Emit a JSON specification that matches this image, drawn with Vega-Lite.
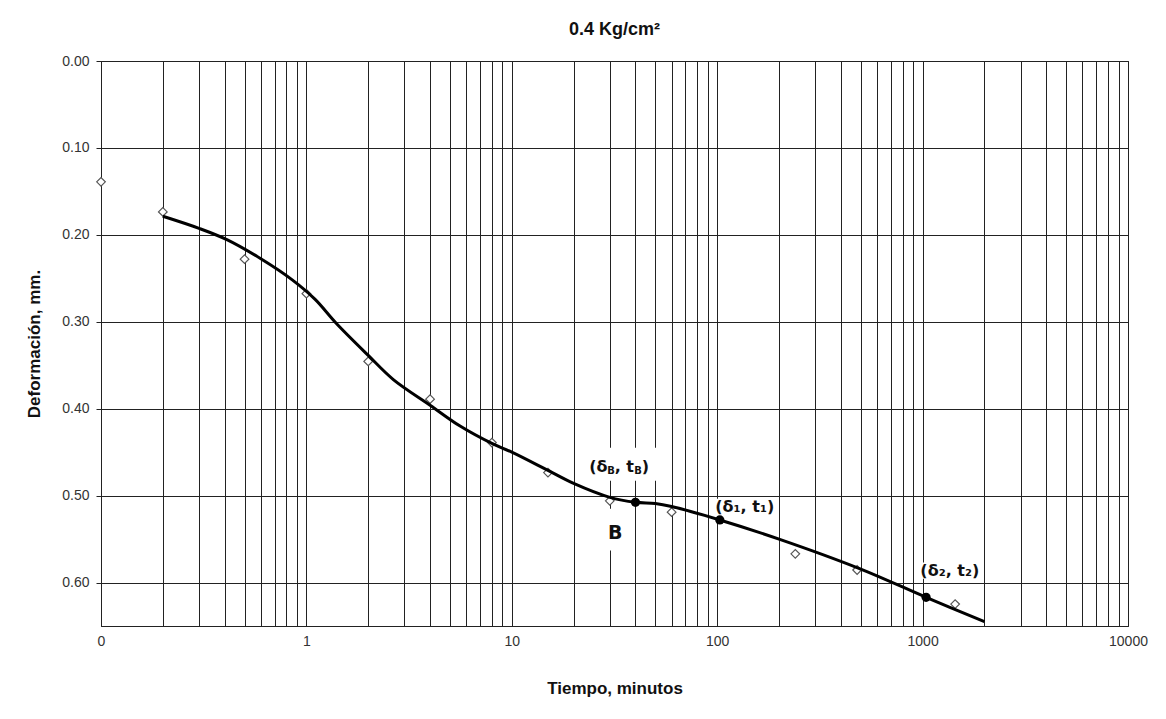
{
  "$schema": "https://vega.github.io/schema/vega-lite/v6.json",
  "autosize": {"type": "none"},
  "padding": {"left": 101, "top": 61, "right": 38, "bottom": 93},
  "width": 1027,
  "height": 565,
  "background": "white",
  "config": {
    "view": {"stroke": "#222", "strokeWidth": 1},
    "font": "Liberation Sans"
  },
  "title": {
    "text": "0.4 Kg/cm²",
    "anchor": "middle",
    "fontSize": 18,
    "fontWeight": "bold",
    "font": "Liberation Sans",
    "color": "#111",
    "offset": 15
  },
  "datasets": {
    "obs": [
      {"t": 0.1, "d": 0.139},
      {"t": 0.2, "d": 0.1736},
      {"t": 0.5, "d": 0.228},
      {"t": 1, "d": 0.2677},
      {"t": 2, "d": 0.3456},
      {"t": 4, "d": 0.389},
      {"t": 8, "d": 0.439},
      {"t": 15, "d": 0.4735},
      {"t": 30, "d": 0.506},
      {"t": 60, "d": 0.519},
      {"t": 240, "d": 0.567},
      {"t": 480, "d": 0.5856},
      {"t": 1440, "d": 0.6248}
    ],
    "curve": [
      {"t": 0.2, "d": 0.1786},
      {"t": 0.3, "d": 0.1925},
      {"t": 0.41, "d": 0.2055},
      {"t": 0.6, "d": 0.2275},
      {"t": 0.85, "d": 0.2515},
      {"t": 1.1, "d": 0.274},
      {"t": 1.4, "d": 0.302},
      {"t": 2.0, "d": 0.3387},
      {"t": 2.65, "d": 0.3665},
      {"t": 4, "d": 0.396},
      {"t": 5.6, "d": 0.42},
      {"t": 8, "d": 0.44},
      {"t": 10, "d": 0.45},
      {"t": 15, "d": 0.471},
      {"t": 20, "d": 0.486},
      {"t": 30, "d": 0.502},
      {"t": 40, "d": 0.5077},
      {"t": 50, "d": 0.509},
      {"t": 60, "d": 0.5125},
      {"t": 103, "d": 0.528},
      {"t": 200, "d": 0.55},
      {"t": 500, "d": 0.5845},
      {"t": 1040, "d": 0.617},
      {"t": 2000, "d": 0.645}
    ],
    "dots": [
      {"t": 40, "d": 0.5077},
      {"t": 103, "d": 0.528},
      {"t": 1040, "d": 0.617}
    ],
    "boxes": [
      {"t": 23, "t2": 56, "d": 0.445, "d2": 0.483},
      {"t": 26, "t2": 38, "d": 0.515, "d2": 0.563},
      {"t": 95, "t2": 196, "d": 0.5035, "d2": 0.5235},
      {"t": 954, "t2": 1950, "d": 0.577, "d2": 0.5956}
    ],
    "lblB": [{"t": 23.8, "d": 0.4666}],
    "lbls": [
      {"t": 97.9, "d": 0.5135, "label": "(δ₁, t₁)"},
      {"t": 975, "d": 0.5864, "label": "(δ₂, t₂)"}
    ],
    "bigB": [{"t": 31.9, "d": 0.5434, "label": "B"}]
  },
  "encoding": {
    "x": {
      "field": "t",
      "type": "quantitative",
      "scale": {"type": "log", "domain": [0.1, 10000], "nice": false},
      "axis": {
        "title": "Tiempo, minutos",
        "titleFontSize": 17,
        "titleFontWeight": "bold",
        "titleColor": "#111",
        "titlePadding": 32,
        "values": [0.1,0.2,0.3,0.4,0.5,0.6,0.7,0.8,0.9,1,2,3,4,5,6,7,8,9,10,20,30,40,50,60,70,80,90,100,200,300,400,500,600,700,800,900,1000,2000,3000,4000,5000,6000,7000,8000,9000,10000],
        "labelExpr": "indexof([0.1,1,10,100,1000,10000], datum.value) >= 0 ? (datum.value < 1 ? '0' : format(datum.value, 'd')) : ''",
        "labelOverlap": false,
        "labelFlush": false,
        "labelFontSize": 14,
        "labelColor": "#333",
        "labelPadding": 8,
        "ticks": false,
        "grid": true,
        "gridColor": "#222",
        "gridOpacity": 1,
        "gridWidth": 1,
        "domainColor": "#222",
        "domainWidth": 1
      }
    },
    "y": {
      "field": "d",
      "type": "quantitative",
      "scale": {"domain": [0, 0.65], "reverse": true, "nice": false, "zero": false},
      "axis": {
        "title": "Deformación, mm.",
        "titleFontSize": 17,
        "titleFontWeight": "bold",
        "titleColor": "#111",
        "titlePadding": 18,
        "values": [0, 0.1, 0.2, 0.3, 0.4, 0.5, 0.6],
        "format": ".2f",
        "labelFontSize": 14,
        "labelColor": "#333",
        "labelPadding": 7,
        "tickSize": 5,
        "tickColor": "#222",
        "grid": true,
        "gridColor": "#222",
        "gridOpacity": 1,
        "gridWidth": 1,
        "domainColor": "#222",
        "domainWidth": 1
      }
    }
  },
  "layer": [
    {
      "data": {"name": "boxes"},
      "mark": {"type": "rect", "fill": "white", "stroke": null},
      "encoding": {
        "x2": {"field": "t2"},
        "y2": {"field": "d2"}
      }
    },
    {
      "data": {"name": "obs"},
      "mark": {"type": "point", "shape": "diamond", "filled": false, "fill": "white", "fillOpacity": 1, "stroke": "#555", "strokeWidth": 1.2, "size": 75, "opacity": 1}
    },
    {
      "data": {"name": "curve"},
      "mark": {"type": "line", "interpolate": "catmull-rom", "color": "black", "strokeWidth": 3}
    },
    {
      "data": {"name": "dots"},
      "mark": {"type": "circle", "color": "black", "size": 85, "opacity": 1}
    },
    {
      "data": {"name": "lblB"},
      "mark": {"type": "text", "text": "(δ", "align": "left", "baseline": "middle", "font": "DejaVu Sans", "fontWeight": "bold", "fontSize": 16, "color": "#111", "dx": 0}
    },
    {
      "data": {"name": "lblB"},
      "mark": {"type": "text", "text": "B", "align": "left", "baseline": "middle", "font": "DejaVu Sans", "fontWeight": "bold", "fontSize": 10, "color": "#111", "dx": 18, "dy": 4}
    },
    {
      "data": {"name": "lblB"},
      "mark": {"type": "text", "text": ", t", "align": "left", "baseline": "middle", "font": "DejaVu Sans", "fontWeight": "bold", "fontSize": 16, "color": "#111", "dx": 25.5}
    },
    {
      "data": {"name": "lblB"},
      "mark": {"type": "text", "text": "B", "align": "left", "baseline": "middle", "font": "DejaVu Sans", "fontWeight": "bold", "fontSize": 10, "color": "#111", "dx": 45, "dy": 4}
    },
    {
      "data": {"name": "lblB"},
      "mark": {"type": "text", "text": ")", "align": "left", "baseline": "middle", "font": "DejaVu Sans", "fontWeight": "bold", "fontSize": 16, "color": "#111", "dx": 52.5}
    },
    {
      "data": {"name": "lbls"},
      "mark": {"type": "text", "align": "left", "baseline": "middle", "font": "DejaVu Sans", "fontWeight": "bold", "fontSize": 16, "color": "#111"},
      "encoding": {"text": {"field": "label"}}
    },
    {
      "data": {"name": "bigB"},
      "mark": {"type": "text", "align": "center", "baseline": "middle", "font": "DejaVu Sans", "fontWeight": "bold", "fontSize": 19, "color": "#111"},
      "encoding": {"text": {"field": "label"}}
    }
  ]
}
